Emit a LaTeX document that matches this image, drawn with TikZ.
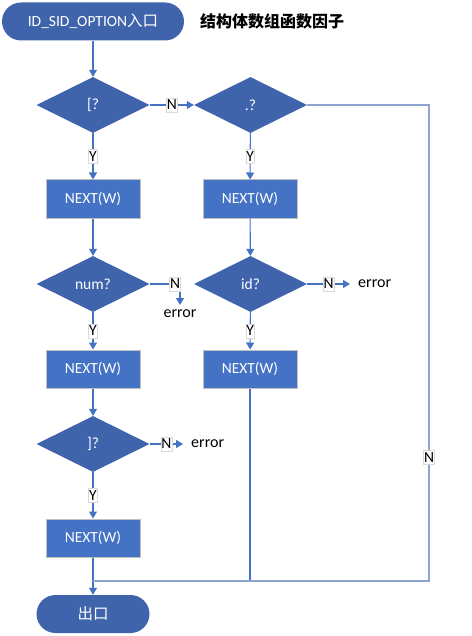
\documentclass[tikz,border=0pt]{standalone}
\usepackage{fontspec}
\setmainfont{Carlito}
\newfontfamily\cjk{Noto Sans CJK SC}
\usetikzlibrary{shapes.geometric,arrows.meta}
\definecolor{dia}{HTML}{3F64AB}
\definecolor{boxc}{HTML}{4472C4}
\definecolor{bord}{HTML}{BFBFBF}
\definecolor{lnc}{HTML}{4472C4}
\definecolor{loopc}{HTML}{8FA3CF}
\tikzset{
  txt/.style={font=\fontsize{15.5}{15.5}\selectfont},
  term/.style={txt, fill=dia, text=white, rounded corners=19pt, minimum height=38pt, inner sep=0pt},
  dec/.style={txt, diamond, fill=dia, text=white, minimum width=113pt, minimum height=56pt, inner sep=0pt},
  proc/.style={txt, rectangle, fill=boxc, text=white, draw=bord, line width=1pt, minimum width=94pt, minimum height=38pt},
  lbl/.style={txt, fill=white, draw=bord!60, line width=0.5pt, inner xsep=0.5pt, inner ysep=2pt},
  errt/.style={font=\fontsize{16}{16}\selectfont, inner sep=0pt},
  conn/.style={draw=lnc, line width=1.1pt},
  arr/.style={conn, -{Triangle[length=7pt,width=8pt]}},
  loopl/.style={draw=loopc, line width=1.3pt},
}
\begin{document}
\begin{tikzpicture}[x=1pt,y=-1pt]
\useasboundingbox (0,0) rectangle (471,636);
\node[term, minimum width=182pt] (start) at (93,21.5) {ID\_SID\_OPTION{\cjk 入口}};
\node[font=\cjk\bfseries\fontsize{16}{16}\selectfont, anchor=west, inner sep=0pt] (title) at (200,21) {结构体数组函数因子};

\node[dec] (d1) at (93,105) {[?};
\node[dec] (d2) at (250.5,105) {.?};
\node[proc] (b1) at (93,199) {NEXT(W)};
\node[proc] (b2) at (250,199) {NEXT(W)};
\node[dec] (d3) at (93,284) {num?};
\node[dec] (d4) at (250.5,284) {id?};
\node[errt, anchor=north, inner ysep=5pt] (err1) at (180,305) {error};
\node[errt, anchor=west, inner xsep=8pt] (err2) at (350,284) {error};
\node[proc] (b3) at (93,369) {NEXT(W)};
\node[proc] (b4) at (250,369) {NEXT(W)};
\node[dec] (d5) at (93,444) {]?};
\node[errt, anchor=west, inner xsep=8pt] (err3) at (183,444) {error};
\node[proc] (b5) at (93,538) {NEXT(W)};
\node[term, minimum width=113pt, font=\cjk\fontsize{15.5}{15.5}\selectfont] (exit) at (93,614) {出口};

\coordinate (rc) at (429,581);
\coordinate (mc) at (93,581);

\draw[arr] (start) -- (d1);
\draw[arr] (d1) -- node[lbl]{N} (d2);
\draw[arr] (d1) -- node[lbl]{Y} (b1);
\draw[arr] (d2) -- node[lbl]{Y} (b2);
\draw[arr] (b1) -- (d3);
\draw[arr] (b2) -- (d4);
\draw[arr] (d3.east) -| node[lbl,pos=0.42]{N} (err1.north);
\draw[arr] (d4.east) -- node[lbl,pos=0.5]{N} (err2.west);
\draw[arr] (d3) -- node[lbl]{Y} (b3);
\draw[arr] (d4) -- node[lbl]{Y} (b4);
\draw[arr] (b3) -- (d5);
\draw[arr] (d5.east) -- node[lbl,pos=0.5]{N} (err3.west);
\draw[arr] (d5) -- node[lbl]{Y} (b5);
\draw[arr] (b5) -- (exit);
\draw[conn] (b4) -- (b4 |- mc);
\draw[loopl] (d2.east) -- (d2.east -| rc) -- node[lbl,pos=0.74]{N} (rc) -- (mc);
\end{tikzpicture}
\end{document}
